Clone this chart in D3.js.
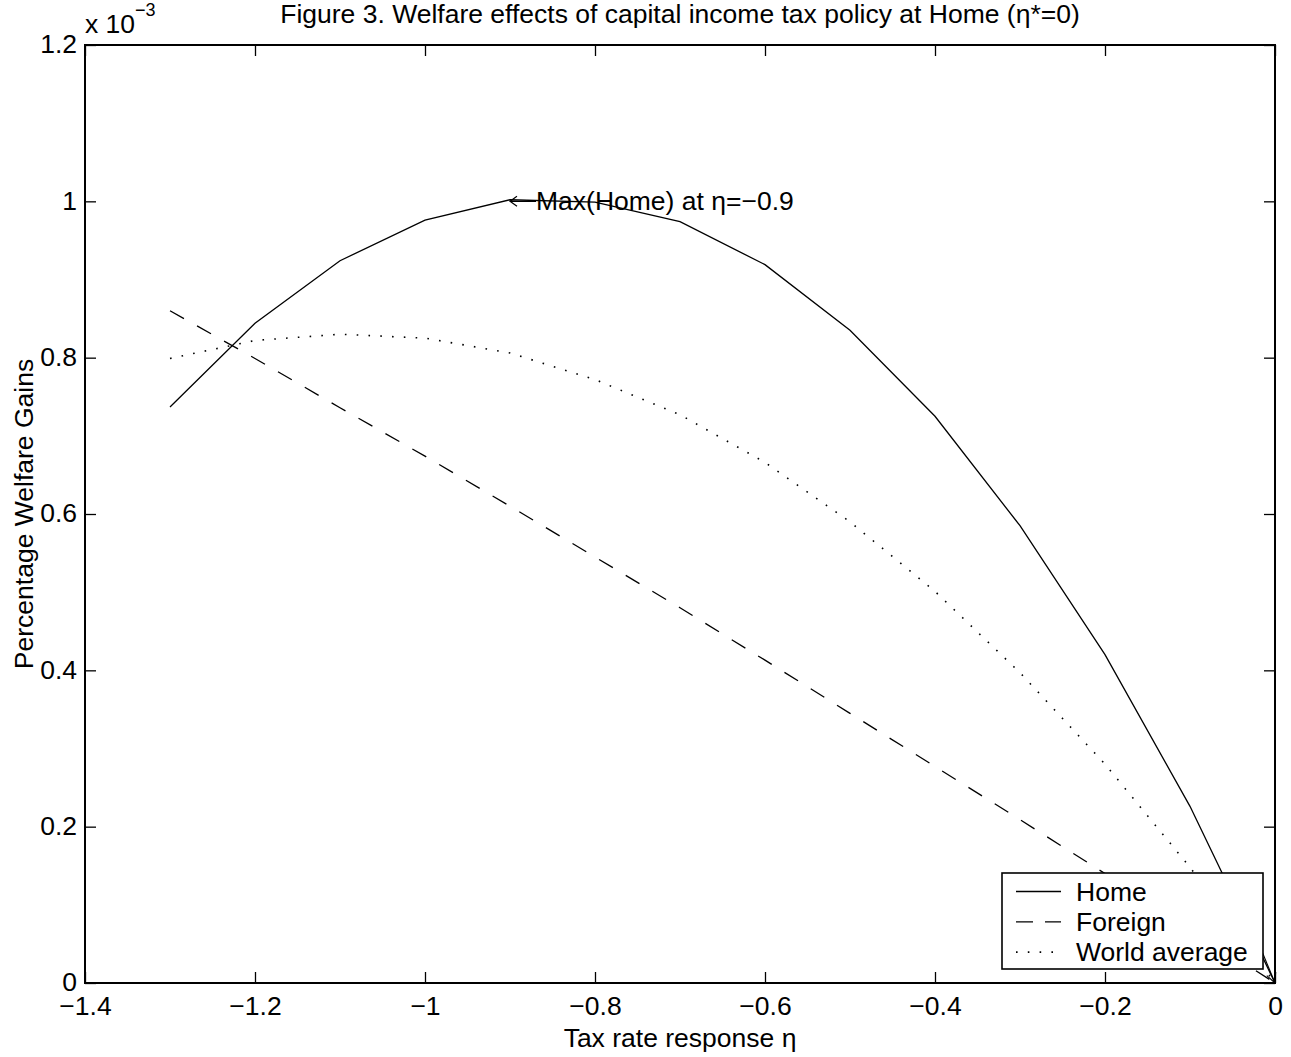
<!DOCTYPE html>
<html>
<head>
<meta charset="utf-8">
<script src="https://cdn.jsdelivr.net/npm/d3@7"></script>
<style>
  body { margin: 0; background: #fff; }
  svg text { font-family: "Liberation Sans", Arial, Helvetica, sans-serif; fill: #000; }
</style>
</head>
<body>
<svg id="chart" width="1291" height="1057"></svg>
<script>
// Tax rate response eta (x) and welfare gains (x 10^-3).
var eta = [-1.3, -1.2, -1.1, -1.0, -0.9, -0.8, -0.7, -0.6, -0.5, -0.4, -0.3, -0.2, -0.1, 0];
var home = [0.737, 0.844, 0.924, 0.976, 1.002, 0.999, 0.974, 0.919, 0.835, 0.725, 0.585, 0.420, 0.226, 0];
var foreign = [0.860, 0.799, 0.736, 0.674, 0.610, 0.545, 0.480, 0.413, 0.345, 0.277, 0.209, 0.140, 0.070, 0];
var world = [0.799, 0.822, 0.830, 0.825, 0.806, 0.772, 0.727, 0.666, 0.590, 0.501, 0.397, 0.280, 0.148, 0];

var xTicks = [-1.4, -1.2, -1.0, -0.8, -0.6, -0.4, -0.2, 0];
var yTicks = [0, 0.2, 0.4, 0.6, 0.8, 1.0, 1.2];

var seriesNames = ['Home', 'Foreign', 'World average'];
var seriesData = [home, foreign, world];
var seriesDash = [null, '16,15', '1.6,10.2'];

var width = 1291, height = 1057;
var margin = {top: 45, right: 16, bottom: 74, left: 85};
var fontSize = 26.5;

var svg = d3.select('#chart');

var x = d3.scaleLinear().domain([-1.4, 0]).range([margin.left, width - margin.right]);
var y = d3.scaleLinear().domain([0, 1.2]).range([height - margin.bottom, margin.top]);

// Format numbers the way the figure does: -1 rather than -1.0, with a real minus.
var fmt = function(d) { return String(+d.toFixed(1)).replace('-', '\u2212'); };

var tick = 11;

// Axes with inward ticks on all four sides.
var gx = svg.append('g')
    .attr('transform', 'translate(0,' + y(0) + ')')
    .call(d3.axisBottom(x).tickValues(xTicks).tickFormat(fmt)
      .tickSizeInner(-tick).tickSizeOuter(0).tickPadding(15));
var gy = svg.append('g')
    .attr('transform', 'translate(' + x(-1.4) + ',0)')
    .call(d3.axisLeft(y).tickValues(yTicks).tickFormat(fmt)
      .tickSizeInner(-tick).tickSizeOuter(0).tickPadding(8));
var gt = svg.append('g')
    .attr('transform', 'translate(0,' + y(1.2) + ')')
    .call(d3.axisTop(x).tickValues(xTicks).tickFormat('')
      .tickSizeInner(-tick).tickSizeOuter(0));
var gr = svg.append('g')
    .attr('transform', 'translate(' + x(0) + ',0)')
    .call(d3.axisRight(y).tickValues(yTicks).tickFormat('')
      .tickSizeInner(-tick).tickSizeOuter(0));

[gx, gy, gt, gr].forEach(function(g) {
  g.select('.domain').remove();
  g.selectAll('.tick line').attr('stroke', '#000').attr('stroke-width', 1.3);
  g.selectAll('.tick text')
      .style('font-family', '"Liberation Sans", Arial, Helvetica, sans-serif')
      .style('font-size', fontSize + 'px')
      .attr('fill', '#000');
});
// x labels sit a touch lower, y labels a touch higher, as in the figure
gx.selectAll('.tick text').attr('dy', '0.66em');
gy.selectAll('.tick text').attr('dy', '0.3em');

// Data lines.
var line = d3.line()
    .x(function(d) { return x(d[0]); })
    .y(function(d) { return y(d[1]); });

seriesData.forEach(function(vals, i) {
  svg.append('path')
      .datum(eta.map(function(e, j) { return [e, vals[j]]; }))
      .attr('d', line)
      .attr('fill', 'none')
      .attr('stroke', '#000')
      .attr('stroke-width', i === 2 ? 1.6 : 1.3)
      .attr('stroke-dasharray', seriesDash[i]);
});

// Axes box.
svg.append('rect')
    .attr('x', x(-1.4))
    .attr('y', y(1.2))
    .attr('width', x(0) - x(-1.4))
    .attr('height', y(0) - y(1.2))
    .attr('fill', 'none')
    .attr('stroke', '#000')
    .attr('stroke-width', 2);

// Annotation at the Home maximum: a drawn left arrow, then the text.
var ax = x(-0.9), ay = y(1.0);
var arrowLen = 26;
svg.append('path')
    .attr('d', 'M' + (ax + arrowLen) + ',' + ay + 'H' + ax +
        'M' + (ax + 7) + ',' + (ay - 5) + 'L' + ax + ',' + ay + 'L' + (ax + 7) + ',' + (ay + 5))
    .attr('fill', 'none')
    .attr('stroke', '#000')
    .attr('stroke-width', 1.2);
svg.append('text')
    .attr('x', ax + arrowLen)
    .attr('y', ay)
    .attr('dy', '0.33em')
    .style('font-size', fontSize + 'px')
    .text('Max(Home) at \u03b7=\u2212' + '0.9');

// Arrow pointing at the origin corner (its label sits under the legend).
var tip = [x(0), y(0)];
var ang = Math.atan2(30, 12.4);
var len = 90;
var tail = [tip[0] - len * Math.cos(ang), tip[1] - len * Math.sin(ang)];
svg.append('line')
    .attr('x1', tail[0]).attr('y1', tail[1])
    .attr('x2', tip[0]).attr('y2', tip[1])
    .attr('stroke', '#000').attr('stroke-width', 1.1);
[-0.45, 0.45].forEach(function(da) {
  svg.append('line')
      .attr('x1', tip[0]).attr('y1', tip[1])
      .attr('x2', tip[0] - 11 * Math.cos(ang + da))
      .attr('y2', tip[1] - 11 * Math.sin(ang + da))
      .attr('stroke', '#000').attr('stroke-width', 1.1);
});

// Legend in the lower right corner.
var lg = {w: 261, h: 96};
var lx = x(0) - 12 - lg.w, ly = y(0) - 14 - lg.h;
var legend = svg.append('g').attr('transform', 'translate(' + lx + ',' + ly + ')');
legend.append('rect')
    .attr('width', lg.w).attr('height', lg.h)
    .attr('fill', '#fff').attr('stroke', '#000').attr('stroke-width', 1.6);
seriesNames.forEach(function(name, i) {
  var cy = 18.5 + i * 30.3;
  legend.append('line')
      .attr('x1', 14).attr('x2', 59)
      .attr('y1', cy).attr('y2', cy)
      .attr('stroke', '#000')
      .attr('stroke-width', i === 2 ? 1.6 : 1.3)
      .attr('stroke-dasharray', i === 1 ? '17,12' : seriesDash[i]);
  legend.append('text')
      .attr('x', 74).attr('y', cy)
      .attr('dy', '0.35em')
      .style('font-size', fontSize + 'px')
      .text(name);
});

// Titles and axis labels.
var cx = (x(-1.4) + x(0)) / 2;
svg.append('text')
    .attr('x', cx).attr('y', 23)
    .attr('text-anchor', 'middle')
    .style('font-size', fontSize + 'px')
    .text('Figure 3. Welfare effects of capital income tax policy at Home (\u03b7*=0)');

svg.append('text')
    .attr('x', cx).attr('y', 1047)
    .attr('text-anchor', 'middle')
    .style('font-size', fontSize + 'px')
    .text('Tax rate response \u03b7');

svg.append('text')
    .attr('transform', 'translate(33,' + (y(0) + y(1.2)) / 2 + ') rotate(-90)')
    .attr('text-anchor', 'middle')
    .style('font-size', fontSize + 'px')
    .text('Percentage Welfare Gains');

// Exponent label above the y axis.
var expo = svg.append('text')
    .attr('x', x(-1.4)).attr('y', 33)
    .style('font-size', fontSize + 'px');
expo.append('tspan').text('x 10');
expo.append('tspan')
    .attr('dy', -17)
    .style('font-size', '18px')
    .text('\u22123');
</script>
</body>
</html>
